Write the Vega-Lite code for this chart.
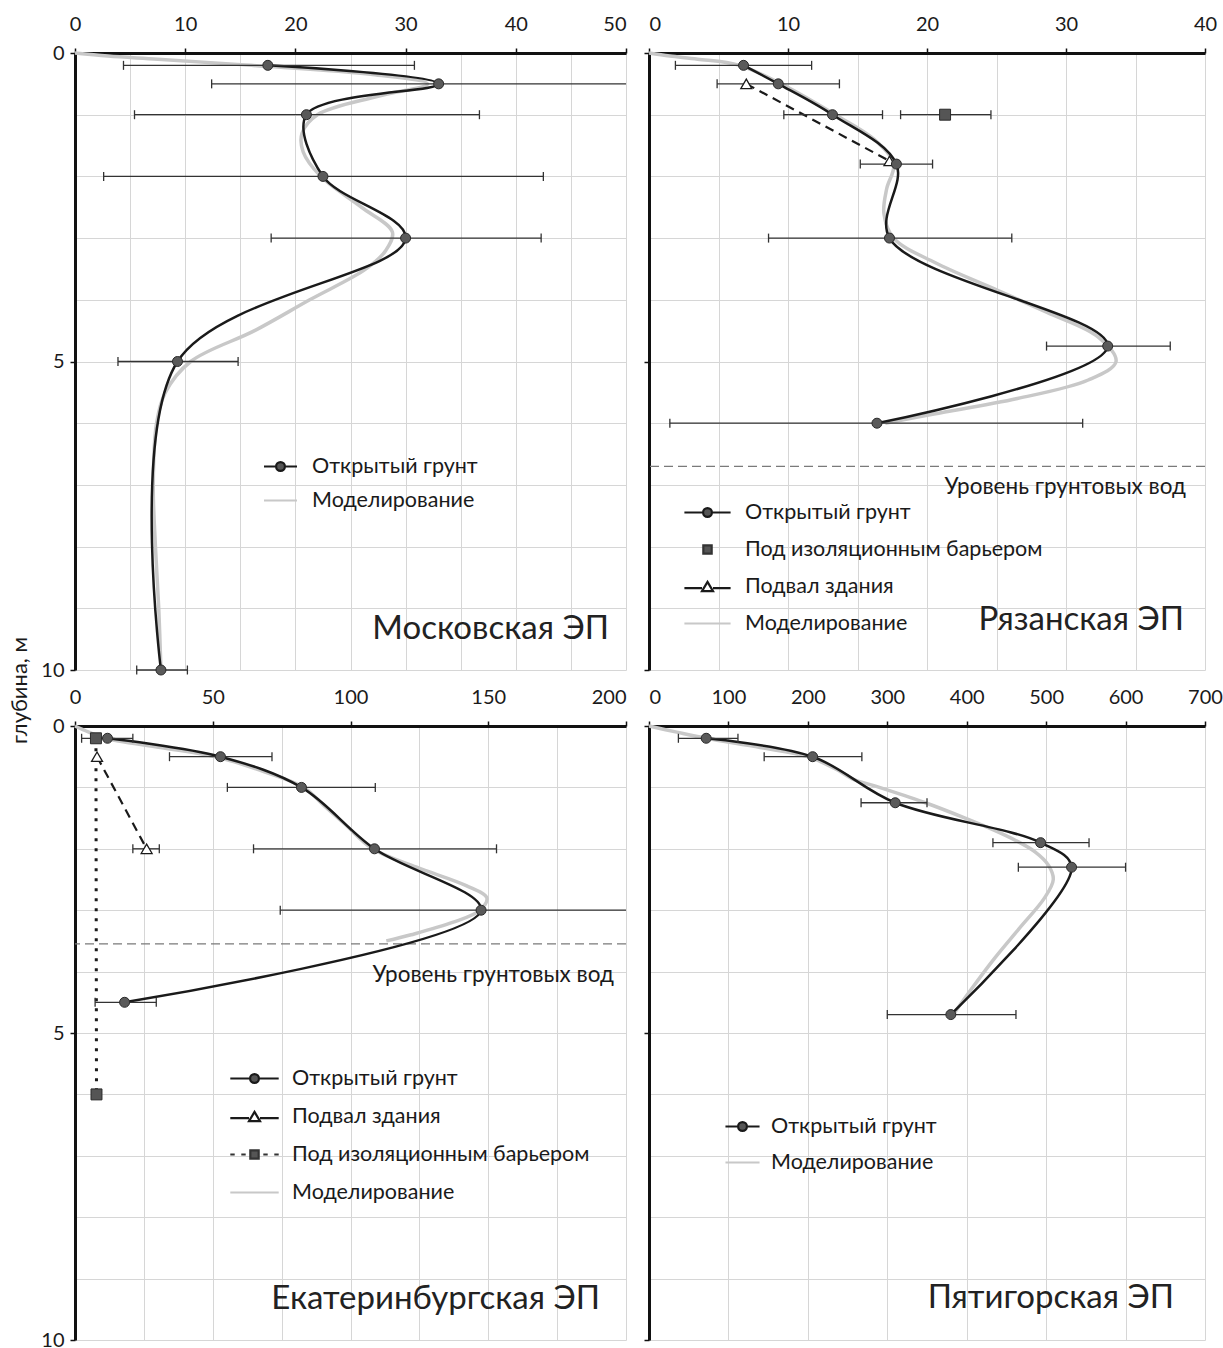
{
  "$schema": "https://vega.github.io/schema/vega-lite/v6.json",
  "padding": {"left": 8, "top": 14, "right": 5, "bottom": 5},
  "config": {
    "font": "Lato",
    "view": {"stroke": null},
    "axis": {
      "gridColor": "#d6d6d6", "gridWidth": 1,
      "domainColor": "#111", "domainWidth": 3,
      "tickColor": "#111", "tickWidth": 1.5, "tickSize": 5,
      "labelFont": "Lato", "labelFontSize": 20, "labelColor": "#1a1a1a", "labelPadding": 6,
      "titleFont": "Lato", "titleFontSize": 22, "titleFontWeight": "normal", "titleColor": "#1a1a1a"
    },
    "axisTop": {"labelPadding": 14},
    "legend": {"labelFont": "Lato", "labelFontSize": 21.5, "labelColor": "#1a1a1a", "labelLimit": 0, "padding": 0, "symbolStrokeWidth": 2.2},
    "title": {"font": "Lato", "fontSize": 33, "fontWeight": "normal", "color": "#222", "frame": "group"}
  },
  "datasets": {
    "moscow": [
      {"s": "Моделирование", "d": 0, "v": 0},
      {"s": "Моделирование", "d": 0.05, "v": 3},
      {"s": "Моделирование", "d": 0.1, "v": 7.5},
      {"s": "Моделирование", "d": 0.2, "v": 16},
      {"s": "Моделирование", "d": 0.35, "v": 27},
      {"s": "Моделирование", "d": 0.5, "v": 32},
      {"s": "Моделирование", "d": 0.7, "v": 27.5},
      {"s": "Моделирование", "d": 1.0, "v": 22},
      {"s": "Моделирование", "d": 1.3, "v": 20.6},
      {"s": "Моделирование", "d": 1.6, "v": 20.7},
      {"s": "Моделирование", "d": 2.0, "v": 22.3},
      {"s": "Моделирование", "d": 2.5, "v": 26},
      {"s": "Моделирование", "d": 2.9, "v": 28.8},
      {"s": "Моделирование", "d": 3.2, "v": 28.2},
      {"s": "Моделирование", "d": 3.5, "v": 26.4},
      {"s": "Моделирование", "d": 4.0, "v": 21.3},
      {"s": "Моделирование", "d": 4.5, "v": 16.3},
      {"s": "Моделирование", "d": 5.0, "v": 10.5},
      {"s": "Моделирование", "d": 5.5, "v": 8.2},
      {"s": "Моделирование", "d": 6.0, "v": 7.4},
      {"s": "Моделирование", "d": 7.0, "v": 7.1},
      {"s": "Моделирование", "d": 8.0, "v": 7.3},
      {"s": "Моделирование", "d": 9.0, "v": 7.6},
      {"s": "Моделирование", "d": 10.0, "v": 7.8},
      {"s": "Открытый грунт", "d": 0.2, "v": 17.5, "lo": 4.4, "hi": 30.8},
      {"s": "Открытый грунт", "d": 0.5, "v": 33.0, "lo": 12.4, "hi": 53.6},
      {"s": "Открытый грунт", "d": 1.0, "v": 21.0, "lo": 5.4, "hi": 36.7},
      {"s": "Открытый грунт", "d": 2.0, "v": 22.5, "lo": 2.6, "hi": 42.5},
      {"s": "Открытый грунт", "d": 3.0, "v": 30.0, "lo": 17.8, "hi": 42.3},
      {"s": "Открытый грунт", "d": 5.0, "v": 9.3, "lo": 3.9, "hi": 14.8},
      {"s": "Открытый грунт", "d": 10.0, "v": 7.8, "lo": 5.6, "hi": 10.2}
    ],
    "ryazan": [
      {"s": "Моделирование", "d": 0, "v": 0},
      {"s": "Моделирование", "d": 0.05, "v": 1.5},
      {"s": "Моделирование", "d": 0.1, "v": 3.5},
      {"s": "Моделирование", "d": 0.2, "v": 6.5},
      {"s": "Моделирование", "d": 0.5, "v": 9.5},
      {"s": "Моделирование", "d": 1.0, "v": 13.4},
      {"s": "Моделирование", "d": 1.4, "v": 16.2},
      {"s": "Моделирование", "d": 1.8, "v": 17.6},
      {"s": "Моделирование", "d": 2.2, "v": 17.1},
      {"s": "Моделирование", "d": 2.6, "v": 16.9},
      {"s": "Моделирование", "d": 3.0, "v": 17.6},
      {"s": "Моделирование", "d": 3.4, "v": 20.6},
      {"s": "Моделирование", "d": 3.8, "v": 24.6},
      {"s": "Моделирование", "d": 4.2, "v": 28.6},
      {"s": "Моделирование", "d": 4.6, "v": 32.3},
      {"s": "Моделирование", "d": 5.0, "v": 33.6},
      {"s": "Моделирование", "d": 5.3, "v": 31.6},
      {"s": "Моделирование", "d": 5.6, "v": 26.5},
      {"s": "Моделирование", "d": 5.85, "v": 20.5},
      {"s": "Моделирование", "d": 6.0, "v": 17.0},
      {"s": "Открытый грунт", "d": 0.2, "v": 6.8, "lo": 1.9, "hi": 11.7},
      {"s": "Открытый грунт", "d": 0.5, "v": 9.3, "lo": 4.9, "hi": 13.7},
      {"s": "Открытый грунт", "d": 1.0, "v": 13.2, "lo": 9.7, "hi": 16.8},
      {"s": "Открытый грунт", "d": 1.8, "v": 17.8, "lo": 15.2, "hi": 20.4},
      {"s": "Открытый грунт", "d": 3.0, "v": 17.3, "lo": 8.6, "hi": 26.1},
      {"s": "Открытый грунт", "d": 4.75, "v": 33.0, "lo": 28.6, "hi": 37.5},
      {"s": "Открытый грунт", "d": 6.0, "v": 16.4, "lo": 1.5, "hi": 31.2},
      {"s": "Под изоляционным барьером", "d": 1.0, "v": 21.3, "lo": 18.1, "hi": 24.6},
      {"s": "Подвал здания", "d": 0.5, "v": 7.0},
      {"s": "Подвал здания", "d": 1.75, "v": 17.3}
    ],
    "ekb": [
      {"s": "Моделирование", "d": 0, "v": 0},
      {"s": "Моделирование", "d": 0.1, "v": 5},
      {"s": "Моделирование", "d": 0.2, "v": 11},
      {"s": "Моделирование", "d": 0.35, "v": 31},
      {"s": "Моделирование", "d": 0.5, "v": 51},
      {"s": "Моделирование", "d": 0.75, "v": 69},
      {"s": "Моделирование", "d": 1.0, "v": 83},
      {"s": "Моделирование", "d": 1.3, "v": 90.5},
      {"s": "Моделирование", "d": 1.6, "v": 98},
      {"s": "Моделирование", "d": 2.0, "v": 108},
      {"s": "Моделирование", "d": 2.3, "v": 124},
      {"s": "Моделирование", "d": 2.6, "v": 142},
      {"s": "Моделирование", "d": 2.8, "v": 149.5},
      {"s": "Моделирование", "d": 3.0, "v": 147},
      {"s": "Моделирование", "d": 3.2, "v": 137},
      {"s": "Моделирование", "d": 3.4, "v": 122},
      {"s": "Моделирование", "d": 3.5, "v": 113},
      {"s": "Открытый грунт", "d": 0.2, "v": 11.8, "lo": 2.4, "hi": 21.0},
      {"s": "Открытый грунт", "d": 0.5, "v": 52.8, "lo": 34.3, "hi": 71.5},
      {"s": "Открытый грунт", "d": 1.0, "v": 82.2, "lo": 55.3, "hi": 109.0},
      {"s": "Открытый грунт", "d": 2.0, "v": 108.7, "lo": 64.8, "hi": 153.0},
      {"s": "Открытый грунт", "d": 3.0, "v": 147.4, "lo": 74.5, "hi": 220.0},
      {"s": "Открытый грунт", "d": 4.5, "v": 18.0, "lo": 7.3, "hi": 29.5},
      {"s": "Подвал здания", "d": 0.5, "v": 8.0},
      {"s": "Подвал здания", "d": 2.0, "v": 26.0, "lo": 21.0, "hi": 30.6},
      {"s": "Под изоляционным барьером", "d": 0.2, "v": 7.6},
      {"s": "Под изоляционным барьером", "d": 6.0, "v": 7.8}
    ],
    "pyat": [
      {"s": "Моделирование", "d": 0, "v": 0},
      {"s": "Моделирование", "d": 0.1, "v": 35},
      {"s": "Моделирование", "d": 0.2, "v": 72},
      {"s": "Моделирование", "d": 0.35, "v": 140},
      {"s": "Моделирование", "d": 0.5, "v": 200},
      {"s": "Моделирование", "d": 0.7, "v": 235},
      {"s": "Моделирование", "d": 0.86, "v": 256},
      {"s": "Моделирование", "d": 1.0, "v": 290},
      {"s": "Моделирование", "d": 1.25, "v": 348},
      {"s": "Моделирование", "d": 1.5, "v": 398},
      {"s": "Моделирование", "d": 1.7, "v": 435},
      {"s": "Моделирование", "d": 1.86, "v": 461},
      {"s": "Моделирование", "d": 2.05, "v": 486},
      {"s": "Моделирование", "d": 2.27, "v": 503},
      {"s": "Моделирование", "d": 2.5, "v": 509},
      {"s": "Моделирование", "d": 2.8, "v": 498},
      {"s": "Моделирование", "d": 3.3, "v": 466},
      {"s": "Моделирование", "d": 3.8, "v": 434},
      {"s": "Моделирование", "d": 4.3, "v": 405},
      {"s": "Моделирование", "d": 4.7, "v": 383},
      {"s": "Открытый грунт", "d": 0.2, "v": 72, "lo": 37, "hi": 112},
      {"s": "Открытый грунт", "d": 0.5, "v": 206, "lo": 145, "hi": 268},
      {"s": "Открытый грунт", "d": 1.25, "v": 310, "lo": 267, "hi": 350},
      {"s": "Открытый грунт", "d": 1.9, "v": 493, "lo": 433, "hi": 554},
      {"s": "Открытый грунт", "d": 2.3, "v": 532, "lo": 465, "hi": 600},
      {"s": "Открытый грунт", "d": 4.7, "v": 380, "lo": 300, "hi": 462}
    ],
    "gw_ryazan": [{"d": 6.7, "label": "Уровень грунтовых вод"}],
    "gw_ekb": [{"d": 3.55, "label": "Уровень грунтовых вод"}]
  },
  "bounds": "flush",
  "columns": 2,
  "spacing": {"row": 56, "column": 23},
  "resolve": {
    "scale": {"shape": "independent", "fill": "independent", "stroke": "independent", "x": "independent", "y": "independent"},
    "legend": {"shape": "independent", "fill": "independent", "stroke": "independent"}
  },
  "concat": [
    {
      "width": 551, "height": 617,
      "title": {"text": "Московская ЭП", "orient": "bottom", "anchor": "end", "offset": -114, "dx": -17, "baseline": "middle"},
      "data": {"name": "moscow"},
      "encoding": {
        "y": {"field": "d", "type": "quantitative",
          "scale": {"domain": [0, 10], "reverse": true, "nice": false, "zero": false},
          "axis": {"title": "глубина, м", "titleX": -56, "titleY": 637, "titleAlign": "center", "titleBaseline": "middle", "titleAngle": 270,
            "values": [0, 1, 2, 3, 4, 5, 6, 7, 8, 9, 10],
            "labelExpr": "datum.value % 5 === 0 ? datum.label : ''",
            "tickOpacity": {"condition": {"test": "datum.value % 5 === 0", "value": 1}, "value": 0}}}
      },
      "layer": [
        {
          "transform": [{"filter": "datum.s === 'Моделирование'"}],
          "mark": {"type": "line", "interpolate": "catmull-rom", "strokeWidth": 3.5, "color": "#c8c8c8"},
          "encoding": {
            "x": {"field": "v", "type": "quantitative", "scale": {"domain": [0, 50], "nice": false, "clamp": true},
              "axis": {"orient": "top", "title": null, "values": [0, 5, 10, 15, 20, 25, 30, 35, 40, 45, 50],
                "labelExpr": "datum.value % 10 === 0 ? datum.label : ''",
                "tickOpacity": {"condition": {"test": "datum.value % 10 === 0", "value": 1}, "value": 0},
                "labelAlign": {"condition": {"test": "datum.value === 50", "value": "right"}, "value": "center"}}},
            "order": {"field": "d", "type": "quantitative"}
          }
        },
        {
          "transform": [{"filter": "datum.s === 'Открытый грунт'"}],
          "mark": {"type": "line", "interpolate": "catmull-rom", "strokeWidth": 2.5, "color": "#1a1a1a"},
          "encoding": {
            "x": {"field": "v", "type": "quantitative", "title": null},
            "order": {"field": "d", "type": "quantitative"}
          }
        },
        {
          "transform": [{"filter": "isValid(datum.lo)"}],
          "mark": {"type": "rule", "color": "#333", "strokeWidth": 1.3},
          "encoding": {"x": {"field": "lo", "type": "quantitative", "title": null}, "x2": {"field": "hi"}}
        },
        {
          "transform": [{"filter": "isValid(datum.lo)"}],
          "mark": {"type": "tick", "orient": "vertical", "size": 9, "thickness": 1.3, "color": "#333", "opacity": 1},
          "encoding": {"x": {"field": "lo", "type": "quantitative", "title": null}}
        },
        {
          "transform": [{"filter": "isValid(datum.hi) && datum.hi <= 50"}],
          "mark": {"type": "tick", "orient": "vertical", "size": 9, "thickness": 1.3, "color": "#333", "opacity": 1},
          "encoding": {"x": {"field": "hi", "type": "quantitative", "title": null}}
        },
        {
          "transform": [{"filter": "datum.s === 'Открытый грунт'"}],
          "mark": {"type": "point", "shape": "circle", "filled": true, "size": 100, "fill": "#5a5a5a", "stroke": "#2a2a2a", "strokeWidth": 1, "opacity": 1},
          "encoding": {"x": {"field": "v", "type": "quantitative", "title": null}}
        },
        {
          "transform": [{"filter": "false"}],
          "mark": {"type": "point", "size": 484, "strokeWidth": 2.2, "opacity": 1},
          "encoding": {
            "x": {"field": "v", "type": "quantitative", "title": null},
            "shape": {"field": "s", "type": "nominal",
              "scale": {"domain": ["Открытый грунт", "Моделирование"],
                "range": ["M-1.5,0H-0.4M0.4,0H1.5M-0.4,0A0.4,0.4,0,1,1,0.4,0A0.4,0.4,0,1,1,-0.4,0Z", "M-1.5,0H1.5"]},
              "legend": {"title": null, "orient": "none", "legendX": 193, "legendY": 401, "symbolSize": 484, "labelOffset": 19, "rowPadding": 11}},
            "fill": {"field": "s", "type": "nominal", "scale": {"domain": ["Открытый грунт", "Моделирование"], "range": ["#555555", "transparent"]}},
            "stroke": {"field": "s", "type": "nominal", "scale": {"domain": ["Открытый грунт", "Моделирование"], "range": ["#1a1a1a", "#c8c8c8"]}}
          }
        }
      ]
    },
    {
      "width": 556, "height": 617,
      "title": {"text": "Рязанская ЭП", "orient": "bottom", "anchor": "end", "offset": -51, "dx": -21, "baseline": "middle"},
      "encoding": {
        "y": {"field": "d", "type": "quantitative",
          "scale": {"domain": [0, 10], "reverse": true, "nice": false, "zero": false},
          "axis": {"title": null, "labels": false, "values": [0, 1, 2, 3, 4, 5, 6, 7, 8, 9, 10],
            "tickOpacity": {"condition": {"test": "datum.value % 5 === 0", "value": 1}, "value": 0}}}
      },
      "layer": [
        {
          "data": {"name": "ryazan"},
          "transform": [{"filter": "datum.s === 'Моделирование'"}],
          "mark": {"type": "line", "interpolate": "catmull-rom", "strokeWidth": 3.5, "color": "#c8c8c8"},
          "encoding": {
            "x": {"field": "v", "type": "quantitative", "scale": {"domain": [0, 40], "nice": false, "clamp": true},
              "axis": {"orient": "top", "title": null, "values": [0, 5, 10, 15, 20, 25, 30, 35, 40],
                "labelExpr": "datum.value % 10 === 0 ? datum.label : ''",
                "tickOpacity": {"condition": {"test": "datum.value % 10 === 0", "value": 1}, "value": 0},
                "labelAlign": {"condition": {"test": "datum.value === 0", "value": "left"}, "value": "center"}}},
            "order": {"field": "d", "type": "quantitative"}
          }
        },
        {
          "data": {"name": "gw_ryazan"},
          "mark": {"type": "rule", "color": "#7a7a7a", "strokeWidth": 1.3, "strokeDash": [9, 5]},
          "encoding": {"y": {"field": "d", "type": "quantitative"}}
        },
        {
          "data": {"name": "gw_ryazan"},
          "mark": {"type": "text", "align": "right", "baseline": "middle", "fontSize": 22.5, "dx": -19, "dy": 21, "color": "#1a1a1a"},
          "encoding": {"y": {"field": "d", "type": "quantitative"}, "x": {"value": "width"}, "text": {"field": "label"}}
        },
        {
          "data": {"name": "ryazan"},
          "transform": [{"filter": "datum.s === 'Подвал здания'"}],
          "mark": {"type": "line", "interpolate": "catmull-rom", "strokeWidth": 2.2, "strokeDash": [9, 6], "color": "#1a1a1a"},
          "encoding": {"x": {"field": "v", "type": "quantitative", "title": null}, "order": {"field": "d", "type": "quantitative"}}
        },
        {
          "data": {"name": "ryazan"},
          "transform": [{"filter": "datum.s === 'Открытый грунт'"}],
          "mark": {"type": "line", "interpolate": "catmull-rom", "strokeWidth": 2.5, "color": "#1a1a1a"},
          "encoding": {"x": {"field": "v", "type": "quantitative", "title": null}, "order": {"field": "d", "type": "quantitative"}}
        },
        {
          "data": {"name": "ryazan"},
          "transform": [{"filter": "isValid(datum.lo)"}],
          "mark": {"type": "rule", "color": "#333", "strokeWidth": 1.3},
          "encoding": {"x": {"field": "lo", "type": "quantitative", "title": null}, "x2": {"field": "hi"}}
        },
        {
          "data": {"name": "ryazan"},
          "transform": [{"filter": "isValid(datum.lo)"}],
          "mark": {"type": "tick", "orient": "vertical", "size": 9, "thickness": 1.3, "color": "#333", "opacity": 1},
          "encoding": {"x": {"field": "lo", "type": "quantitative", "title": null}}
        },
        {
          "data": {"name": "ryazan"},
          "transform": [{"filter": "isValid(datum.hi) && datum.hi <= 40"}],
          "mark": {"type": "tick", "orient": "vertical", "size": 9, "thickness": 1.3, "color": "#333", "opacity": 1},
          "encoding": {"x": {"field": "hi", "type": "quantitative", "title": null}}
        },
        {
          "data": {"name": "ryazan"},
          "transform": [{"filter": "datum.s === 'Подвал здания'"}],
          "mark": {"type": "point", "shape": "triangle-up", "filled": true, "size": 120, "fill": "#fff", "stroke": "#1a1a1a", "strokeWidth": 1.3, "opacity": 1},
          "encoding": {"x": {"field": "v", "type": "quantitative", "title": null}}
        },
        {
          "data": {"name": "ryazan"},
          "transform": [{"filter": "datum.s === 'Под изоляционным барьером'"}],
          "mark": {"type": "point", "shape": "square", "filled": true, "size": 120, "fill": "#555", "stroke": "#2a2a2a", "strokeWidth": 1, "opacity": 1},
          "encoding": {"x": {"field": "v", "type": "quantitative", "title": null}}
        },
        {
          "data": {"name": "ryazan"},
          "transform": [{"filter": "datum.s === 'Открытый грунт'"}],
          "mark": {"type": "point", "shape": "circle", "filled": true, "size": 100, "fill": "#5a5a5a", "stroke": "#2a2a2a", "strokeWidth": 1, "opacity": 1},
          "encoding": {"x": {"field": "v", "type": "quantitative", "title": null}}
        },
        {
          "data": {"name": "ryazan"},
          "transform": [{"filter": "false"}],
          "mark": {"type": "point", "size": 484, "strokeWidth": 2.2, "opacity": 1},
          "encoding": {
            "x": {"field": "v", "type": "quantitative", "title": null},
            "shape": {"field": "s", "type": "nominal",
              "scale": {"domain": ["Открытый грунт", "Под изоляционным барьером", "Подвал здания", "Моделирование"],
                "range": [
                  "M-2.1,0H-0.4M0.4,0H2.1M-0.4,0A0.4,0.4,0,1,1,0.4,0A0.4,0.4,0,1,1,-0.4,0Z",
                  "M-0.38,-0.38H0.38V0.38H-0.38Z",
                  "M-2.1,0.15H-0.5M0.5,0.15H2.1M0,-0.42L0.5,0.42H-0.5Z",
                  "M-2.1,0H2.1"]},
              "legend": {"title": null, "orient": "none", "legendX": 46, "legendY": 447, "symbolSize": 484, "labelOffset": 25, "rowPadding": 14}},
            "fill": {"field": "s", "type": "nominal", "scale": {"domain": ["Открытый грунт", "Под изоляционным барьером", "Подвал здания", "Моделирование"], "range": ["#555555", "#555555", "#ffffff", "transparent"]}},
            "stroke": {"field": "s", "type": "nominal", "scale": {"domain": ["Открытый грунт", "Под изоляционным барьером", "Подвал здания", "Моделирование"], "range": ["#1a1a1a", "#333333", "#1a1a1a", "#c8c8c8"]}}
          }
        }
      ]
    },
    {
      "width": 551, "height": 614,
      "title": {"text": "Екатеринбургская ЭП", "orient": "bottom", "anchor": "end", "offset": -51, "dx": -26, "baseline": "middle"},
      "encoding": {
        "y": {"field": "d", "type": "quantitative",
          "scale": {"domain": [0, 10], "reverse": true, "nice": false, "zero": false},
          "axis": {"title": null, "values": [0, 1, 2, 3, 4, 5, 6, 7, 8, 9, 10],
            "labelExpr": "datum.value % 5 === 0 ? datum.label : ''",
            "tickOpacity": {"condition": {"test": "datum.value % 5 === 0", "value": 1}, "value": 0}}}
      },
      "layer": [
        {
          "data": {"name": "ekb"},
          "transform": [{"filter": "datum.s === 'Моделирование'"}],
          "mark": {"type": "line", "interpolate": "catmull-rom", "strokeWidth": 3.5, "color": "#c8c8c8"},
          "encoding": {
            "x": {"field": "v", "type": "quantitative", "scale": {"domain": [0, 200], "nice": false, "clamp": true},
              "axis": {"orient": "top", "title": null, "values": [0, 25, 50, 75, 100, 125, 150, 175, 200],
                "labelExpr": "datum.value % 50 === 0 ? datum.label : ''",
                "tickOpacity": {"condition": {"test": "datum.value % 50 === 0", "value": 1}, "value": 0},
                "labelAlign": {"condition": {"test": "datum.value === 200", "value": "right"}, "value": "center"}}},
            "order": {"field": "d", "type": "quantitative"}
          }
        },
        {
          "data": {"name": "gw_ekb"},
          "mark": {"type": "rule", "color": "#7a7a7a", "strokeWidth": 1.3, "strokeDash": [9, 5]},
          "encoding": {"y": {"field": "d", "type": "quantitative"}}
        },
        {
          "data": {"name": "gw_ekb"},
          "mark": {"type": "text", "align": "right", "baseline": "middle", "fontSize": 22.5, "dx": -12, "dy": 31, "color": "#1a1a1a"},
          "encoding": {"y": {"field": "d", "type": "quantitative"}, "x": {"value": "width"}, "text": {"field": "label"}}
        },
        {
          "data": {"name": "ekb"},
          "transform": [{"filter": "datum.s === 'Под изоляционным барьером'"}],
          "mark": {"type": "line", "strokeWidth": 3, "strokeDash": [3, 7], "color": "#1a1a1a"},
          "encoding": {"x": {"field": "v", "type": "quantitative", "title": null}, "order": {"field": "d", "type": "quantitative"}}
        },
        {
          "data": {"name": "ekb"},
          "transform": [{"filter": "datum.s === 'Подвал здания'"}],
          "mark": {"type": "line", "strokeWidth": 2.2, "strokeDash": [9, 6], "color": "#1a1a1a"},
          "encoding": {"x": {"field": "v", "type": "quantitative", "title": null}, "order": {"field": "d", "type": "quantitative"}}
        },
        {
          "data": {"name": "ekb"},
          "transform": [{"filter": "datum.s === 'Открытый грунт'"}],
          "mark": {"type": "line", "interpolate": "catmull-rom", "strokeWidth": 2.5, "color": "#1a1a1a"},
          "encoding": {"x": {"field": "v", "type": "quantitative", "title": null}, "order": {"field": "d", "type": "quantitative"}}
        },
        {
          "data": {"name": "ekb"},
          "transform": [{"filter": "isValid(datum.lo)"}],
          "mark": {"type": "rule", "color": "#333", "strokeWidth": 1.3},
          "encoding": {"x": {"field": "lo", "type": "quantitative", "title": null}, "x2": {"field": "hi"}}
        },
        {
          "data": {"name": "ekb"},
          "transform": [{"filter": "isValid(datum.lo)"}],
          "mark": {"type": "tick", "orient": "vertical", "size": 9, "thickness": 1.3, "color": "#333", "opacity": 1},
          "encoding": {"x": {"field": "lo", "type": "quantitative", "title": null}}
        },
        {
          "data": {"name": "ekb"},
          "transform": [{"filter": "isValid(datum.hi) && datum.hi <= 200"}],
          "mark": {"type": "tick", "orient": "vertical", "size": 9, "thickness": 1.3, "color": "#333", "opacity": 1},
          "encoding": {"x": {"field": "hi", "type": "quantitative", "title": null}}
        },
        {
          "data": {"name": "ekb"},
          "transform": [{"filter": "datum.s === 'Подвал здания'"}],
          "mark": {"type": "point", "shape": "triangle-up", "filled": true, "size": 120, "fill": "#fff", "stroke": "#1a1a1a", "strokeWidth": 1.3, "opacity": 1},
          "encoding": {"x": {"field": "v", "type": "quantitative", "title": null}}
        },
        {
          "data": {"name": "ekb"},
          "transform": [{"filter": "datum.s === 'Под изоляционным барьером'"}],
          "mark": {"type": "point", "shape": "square", "filled": true, "size": 120, "fill": "#555", "stroke": "#2a2a2a", "strokeWidth": 1, "opacity": 1},
          "encoding": {"x": {"field": "v", "type": "quantitative", "title": null}}
        },
        {
          "data": {"name": "ekb"},
          "transform": [{"filter": "datum.s === 'Открытый грунт'"}],
          "mark": {"type": "point", "shape": "circle", "filled": true, "size": 100, "fill": "#5a5a5a", "stroke": "#2a2a2a", "strokeWidth": 1, "opacity": 1},
          "encoding": {"x": {"field": "v", "type": "quantitative", "title": null}}
        },
        {
          "data": {"name": "ekb"},
          "transform": [{"filter": "false"}],
          "mark": {"type": "point", "size": 484, "strokeWidth": 2.2, "opacity": 1},
          "encoding": {
            "x": {"field": "v", "type": "quantitative", "title": null},
            "shape": {"field": "s", "type": "nominal",
              "scale": {"domain": ["Открытый грунт", "Подвал здания", "Под изоляционным барьером", "Моделирование"],
                "range": [
                  "M-2.2,0H-0.4M0.4,0H2.2M-0.4,0A0.4,0.4,0,1,1,0.4,0A0.4,0.4,0,1,1,-0.4,0Z",
                  "M-2.2,0.15H-0.5M0.5,0.15H2.2M0,-0.42L0.5,0.42H-0.5Z",
                  "M-2.2,0H-1.8M-1.2,0H-0.8M0.8,0H1.2M1.8,0H2.2M-0.38,-0.38H0.38V0.38H-0.38Z",
                  "M-2.2,0H2.2"]},
              "legend": {"title": null, "orient": "none", "legendX": 167, "legendY": 340, "symbolSize": 484, "labelOffset": 25, "rowPadding": 15}},
            "fill": {"field": "s", "type": "nominal", "scale": {"domain": ["Открытый грунт", "Подвал здания", "Под изоляционным барьером", "Моделирование"], "range": ["#555555", "#ffffff", "#555555", "transparent"]}},
            "stroke": {"field": "s", "type": "nominal", "scale": {"domain": ["Открытый грунт", "Подвал здания", "Под изоляционным барьером", "Моделирование"], "range": ["#1a1a1a", "#1a1a1a", "#333333", "#c8c8c8"]}}
          }
        }
      ]
    },
    {
      "width": 556, "height": 614,
      "title": {"text": "Пятигорская ЭП", "orient": "bottom", "anchor": "end", "offset": -43, "dx": -31, "baseline": "middle"},
      "data": {"name": "pyat"},
      "encoding": {
        "y": {"field": "d", "type": "quantitative",
          "scale": {"domain": [0, 10], "reverse": true, "nice": false, "zero": false},
          "axis": {"title": null, "labels": false, "values": [0, 1, 2, 3, 4, 5, 6, 7, 8, 9, 10],
            "tickOpacity": {"condition": {"test": "datum.value % 5 === 0", "value": 1}, "value": 0}}}
      },
      "layer": [
        {
          "transform": [{"filter": "datum.s === 'Моделирование'"}],
          "mark": {"type": "line", "interpolate": "catmull-rom", "strokeWidth": 3.5, "color": "#c8c8c8"},
          "encoding": {
            "x": {"field": "v", "type": "quantitative", "scale": {"domain": [0, 700], "nice": false, "clamp": true},
              "axis": {"orient": "top", "title": null, "values": [0, 50, 100, 150, 200, 250, 300, 350, 400, 450, 500, 550, 600, 650, 700],
                "labelExpr": "datum.value % 100 === 0 ? datum.label : ''",
                "tickOpacity": {"condition": {"test": "datum.value % 100 === 0", "value": 1}, "value": 0},
                "labelAlign": {"condition": {"test": "datum.value === 0", "value": "left"}, "value": "center"}}},
            "order": {"field": "d", "type": "quantitative"}
          }
        },
        {
          "transform": [{"filter": "datum.s === 'Открытый грунт'"}],
          "mark": {"type": "line", "interpolate": "catmull-rom", "strokeWidth": 2.5, "color": "#1a1a1a"},
          "encoding": {"x": {"field": "v", "type": "quantitative", "title": null}, "order": {"field": "d", "type": "quantitative"}}
        },
        {
          "transform": [{"filter": "isValid(datum.lo)"}],
          "mark": {"type": "rule", "color": "#333", "strokeWidth": 1.3},
          "encoding": {"x": {"field": "lo", "type": "quantitative", "title": null}, "x2": {"field": "hi"}}
        },
        {
          "transform": [{"filter": "isValid(datum.lo)"}],
          "mark": {"type": "tick", "orient": "vertical", "size": 9, "thickness": 1.3, "color": "#333", "opacity": 1},
          "encoding": {"x": {"field": "lo", "type": "quantitative", "title": null}}
        },
        {
          "transform": [{"filter": "isValid(datum.hi) && datum.hi <= 700"}],
          "mark": {"type": "tick", "orient": "vertical", "size": 9, "thickness": 1.3, "color": "#333", "opacity": 1},
          "encoding": {"x": {"field": "hi", "type": "quantitative", "title": null}}
        },
        {
          "transform": [{"filter": "datum.s === 'Открытый грунт'"}],
          "mark": {"type": "point", "shape": "circle", "filled": true, "size": 100, "fill": "#5a5a5a", "stroke": "#2a2a2a", "strokeWidth": 1, "opacity": 1},
          "encoding": {"x": {"field": "v", "type": "quantitative", "title": null}}
        },
        {
          "transform": [{"filter": "false"}],
          "mark": {"type": "point", "size": 484, "strokeWidth": 2.2, "opacity": 1},
          "encoding": {
            "x": {"field": "v", "type": "quantitative", "title": null},
            "shape": {"field": "s", "type": "nominal",
              "scale": {"domain": ["Открытый грунт", "Моделирование"],
                "range": ["M-1.55,0H-0.4M0.4,0H1.55M-0.4,0A0.4,0.4,0,1,1,0.4,0A0.4,0.4,0,1,1,-0.4,0Z", "M-1.55,0H1.55"]},
              "legend": {"title": null, "orient": "none", "legendX": 81, "legendY": 388, "symbolSize": 484, "labelOffset": 16, "rowPadding": 13}},
            "fill": {"field": "s", "type": "nominal", "scale": {"domain": ["Открытый грунт", "Моделирование"], "range": ["#555555", "transparent"]}},
            "stroke": {"field": "s", "type": "nominal", "scale": {"domain": ["Открытый грунт", "Моделирование"], "range": ["#1a1a1a", "#c8c8c8"]}}
          }
        }
      ]
    }
  ]
}
